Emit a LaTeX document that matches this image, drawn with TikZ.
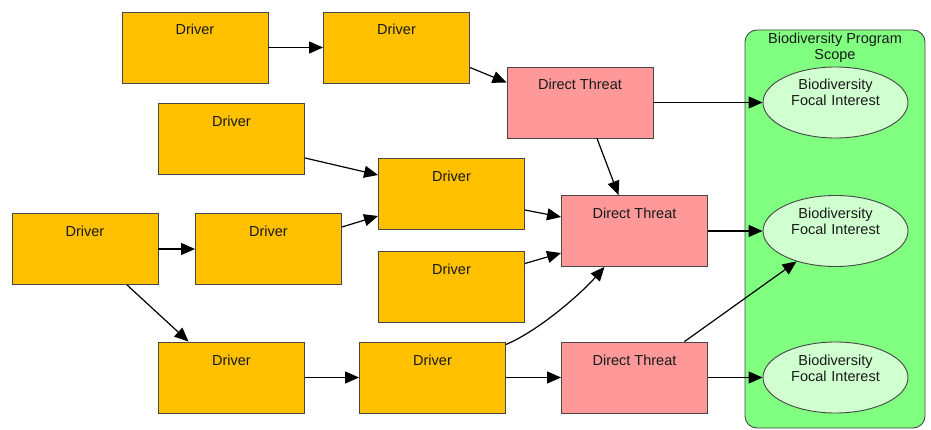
\documentclass[tikz,border=0pt]{standalone}
\usepackage{fontspec}
\setmainfont{Liberation Sans}
\usetikzlibrary{arrows.meta,shapes.geometric,calc}
\definecolor{drv}{RGB}{255,192,0}
\definecolor{thr}{RGB}{255,153,153}
\definecolor{scp}{RGB}{128,255,128}
\definecolor{foc}{RGB}{208,255,208}
\definecolor{edgec}{RGB}{70,70,70}
\begin{document}
\begin{tikzpicture}[x=1pt,y=-1pt,
  every node/.style={font=\fontsize{14.5}{16}\selectfont, text=black!90},
  box/.style={draw=edgec, line width=0.9pt, rectangle, inner sep=0pt,
    minimum width=146pt, minimum height=71pt, text height=23pt, text depth=48pt},
  driver/.style={box, fill=drv},
  threat/.style={box, fill=thr},
  focal/.style={ellipse, draw=edgec, line width=0.9pt, fill=foc, inner sep=0pt,
    minimum width=145pt, minimum height=71pt, text width=100pt, align=center,
    text height=12pt, text depth=37pt},
  conn/.style={-{Triangle[length=14pt,width=12pt]}, line width=1.2pt, black}]
\useasboundingbox (0,0) rectangle (931,430);

% scope
\node[draw=edgec, line width=0.9pt, fill=scp, rounded corners=12pt,
  minimum width=180pt, minimum height=398pt, inner sep=0pt] (scope) at (835,229) {};
\node[anchor=north, align=center, inner sep=0pt] (title) at ($(scope.north)+(0,3)$)
  {Biodiversity Program\\Scope};

% drivers
\node[driver] (A) at (195,47.5) {Driver};
\node[driver] (B) at (396.5,47.5) {Driver};
\node[driver] (C) at (231.5,139) {Driver};
\node[driver] (D) at (451.5,194) {Driver};
\node[driver] (E) at (85,249) {Driver};
\node[driver] (F) at (268.5,249) {Driver};
\node[driver] (G) at (451.5,286.5) {Driver};
\node[driver] (H) at (231.5,377.5) {Driver};
\node[driver] (I) at (432.5,377.5) {Driver};

% threats
\node[threat] (T1) at (580,102.5) {Direct Threat};
\node[threat] (T2) at (634.5,231) {Direct Threat};
\node[threat] (T3) at (634.5,377.5) {Direct Threat};

% focal interests
\node[focal] (F1) at (835.5,102.5) {Biodiversity\\Focal Interest};
\node[focal] (F2) at (835.5,231) {Biodiversity\\Focal Interest};
\node[focal] (F3) at (835.5,377.5) {Biodiversity\\Focal Interest};

% connectors
\draw[conn] (A.east) -- (B.west);
\draw[conn] ($(B.east)+(0,20)$) -- ($(T1.west)+(0,-20)$);
\draw[conn] (T1.east) -- (F1.west);
\draw[conn] ($(T1.south)+(17,0)$) -- ($(T2.north)+(-16,0)$);
\draw[conn] ($(C.east)+(0,19)$) -- ($(D.west)+(0,-19)$);
\draw[conn] ($(F.east)+(0,-22)$) -- ($(D.west)+(0,22)$);
\draw[conn] ($(D.east)+(0,16)$) -- ($(T2.west)+(0,-14)$);
\draw[conn] ($(G.east)+(0,-23)$) -- ($(T2.west)+(0,22)$);
\draw[conn] ($(I.east)+(0,-33)$) .. controls +(35,-15) and +(-22,25) .. ($(T2.south)+(-30,0)$);
\draw[conn] (E.east) -- (F.west);
\draw[conn] ($(E.south)+(42,0)$) -- ($(H.north)+(-43,0)$);
\draw[conn] (H.east) -- (I.west);
\draw[conn] (I.east) -- (T3.west);
\draw[conn] (T2.east) -- (F2.west);
\draw[conn] ($(T3.north)+(50,0)$) -- (F2.218);
\draw[conn] (T3.east) -- (F3.west);
\end{tikzpicture}
\end{document}
